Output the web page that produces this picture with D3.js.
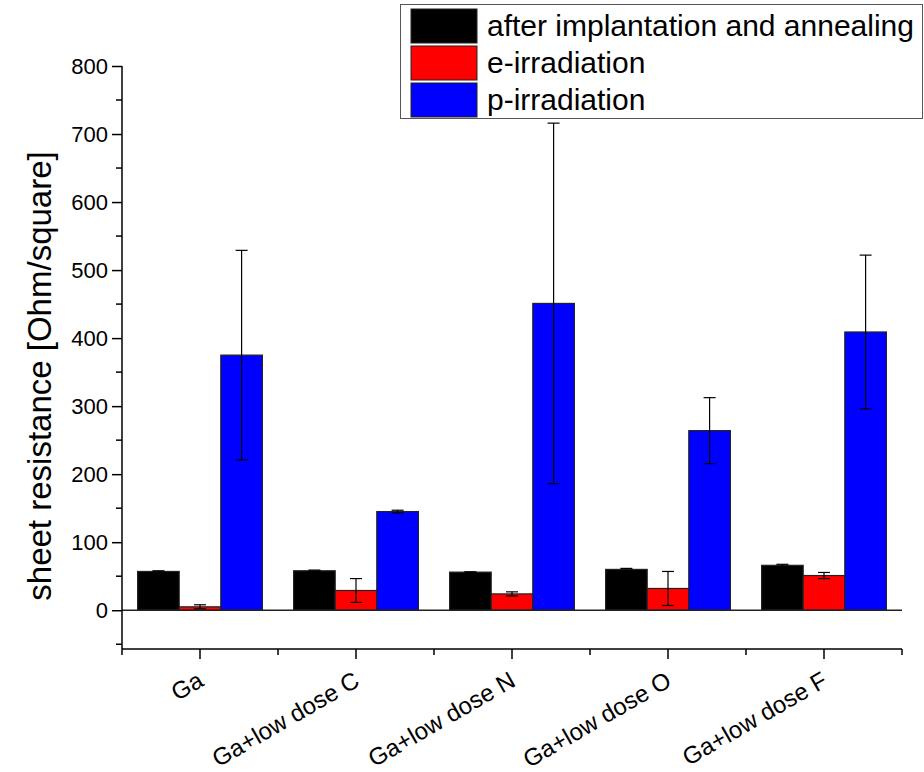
<!DOCTYPE html>
<html>
<head>
<meta charset="utf-8">
<script src="https://cdn.jsdelivr.net/npm/d3@7"></script>
<style>
  body { margin: 0; background: #fff; }
  svg { display: block; font-family: Arial, "Liberation Sans", sans-serif; }
</style>
</head>
<body>
<div class="canvas"></div>
<script>
const categories = ['Ga', 'Ga+low dose C', 'Ga+low dose N', 'Ga+low dose O', 'Ga+low dose F'];
const seriesNames = ['after implantation and annealing', 'e-irradiation', 'p-irradiation'];
const seriesColors = ['#000000', '#ff0000', '#0000ff'];

const afterValues = [57, 58, 56, 60, 66];
const afterErrors = [1, 1, 0.5, 1.5, 1.5];
const eValues = [5, 29, 24, 32, 51];
const eErrors = [3, 17.5, 3, 25, 4.5];
const pValues = [375, 145, 451, 264, 409];
const pErrors = [154, 2, 265, 48.5, 113];

const yTicks = [0, 100, 200, 300, 400, 500, 600, 700, 800];

const svgWidth = 924;
const svgHeight = 772;
const plot = { left: 122, right: 902, top: 66, bottom: 649 };

const svg = d3.select('.canvas')
  .append('svg')
  .attr('width', svgWidth)
  .attr('height', svgHeight);

const xScale = d3.scaleBand()
  .domain(categories)
  .range([plot.left, plot.right])
  .paddingInner(0.2)
  .paddingOuter(0.1);

const xInner = d3.scaleBand()
  .domain(d3.range(seriesNames.length))
  .range([0, xScale.bandwidth()]);

const yScale = d3.scaleLinear().domain([-57, 800]).range([plot.bottom, plot.top]);

const allSeries = [
  { values: afterValues, errors: afterErrors },
  { values: eValues, errors: eErrors },
  { values: pValues, errors: pErrors }
];

const rows = [];
allSeries.forEach((s, si) => {
  categories.forEach((c, ci) => {
    rows.push({ cat: c, si: si, value: s.values[ci], err: s.errors[ci] });
  });
});

const barX = (d) => xScale(d.cat) + xInner(d.si);

// bars
svg.append('g')
  .selectAll('rect')
  .data(rows)
  .enter()
  .append('rect')
  .attr('x', barX)
  .attr('y', (d) => yScale(d.value))
  .attr('width', xInner.bandwidth())
  .attr('height', (d) => yScale(0) - yScale(d.value))
  .attr('fill', (d) => seriesColors[d.si])
  .attr('stroke', '#222')
  .attr('stroke-width', 1.2);

// error bars
const capHalf = 6;
const errG = svg.append('g').attr('stroke', '#000').attr('stroke-width', 1.2);
rows.forEach((d) => {
  const cx = barX(d) + xInner.bandwidth() / 2;
  const y1 = yScale(d.value + d.err);
  const y2 = yScale(d.value - d.err);
  errG.append('line').attr('x1', cx).attr('x2', cx).attr('y1', y1).attr('y2', y2);
  errG.append('line').attr('x1', cx - capHalf).attr('x2', cx + capHalf).attr('y1', y1).attr('y2', y1);
  errG.append('line').attr('x1', cx - capHalf).attr('x2', cx + capHalf).attr('y1', y2).attr('y2', y2);
});

// zero line
svg.append('line')
  .attr('x1', plot.left)
  .attr('x2', plot.right)
  .attr('y1', yScale(0))
  .attr('y2', yScale(0))
  .attr('stroke', '#222')
  .attr('stroke-width', 1.5);

// y axis
const yAxis = d3.axisLeft(yScale).tickValues(yTicks).tickSize(10).tickPadding(4);
const yAxisGroup = svg.append('g')
  .attr('class', 'y-axis')
  .attr('transform', `translate(${plot.left},0)`)
  .call(yAxis);
yAxisGroup.select('.domain').remove();
yAxisGroup.selectAll('line').attr('stroke-width', 1.5);
yAxisGroup.selectAll('text').attr('font-size', '22px').attr('fill', '#000');

const yMinor = d3.range(-50, 800, 100);
svg.append('g')
  .selectAll('line')
  .data(yMinor)
  .enter()
  .append('line')
  .attr('x1', plot.left - 6)
  .attr('x2', plot.left)
  .attr('y1', (d) => yScale(d))
  .attr('y2', (d) => yScale(d))
  .attr('stroke', '#000')
  .attr('stroke-width', 1.5);

svg.append('line')
  .attr('x1', plot.left).attr('x2', plot.left)
  .attr('y1', plot.top).attr('y2', plot.bottom)
  .attr('stroke', '#000').attr('stroke-width', 1.5);

// x axis
const xAxis = d3.axisBottom(xScale).tickSize(10).tickPadding(4);
const xAxisGroup = svg.append('g')
  .attr('class', 'x-axis')
  .attr('transform', `translate(0,${plot.bottom})`)
  .call(xAxis);
xAxisGroup.select('.domain').remove();
xAxisGroup.selectAll('line').attr('stroke-width', 1.5);
xAxisGroup.selectAll('text')
  .attr('font-size', '24px')
  .attr('fill', '#000')
  .attr('text-anchor', 'end')
  .attr('dy', '0')
  .attr('transform', 'translate(-2,24) rotate(-30)');

const xMinor = categories.map((c) => xScale(c) - xScale.step() * xScale.paddingInner() / 2)
  .concat([plot.right]);
svg.append('g')
  .selectAll('line')
  .data(xMinor)
  .enter()
  .append('line')
  .attr('x1', (d) => d).attr('x2', (d) => d)
  .attr('y1', plot.bottom).attr('y2', plot.bottom + 6)
  .attr('stroke', '#000').attr('stroke-width', 1.5);

svg.append('line')
  .attr('x1', plot.left).attr('x2', plot.right)
  .attr('y1', plot.bottom).attr('y2', plot.bottom)
  .attr('stroke', '#000').attr('stroke-width', 1.5);

// y title
svg.append('text')
  .attr('transform', 'translate(51,376) rotate(-90)')
  .attr('text-anchor', 'middle')
  .attr('font-size', '33px')
  .text('sheet resistance [Ohm/square]');

// legend
const legend = svg.append('g').attr('transform', 'translate(400,4)');
legend.append('rect')
  .attr('x', 0.5).attr('y', 0.5)
  .attr('width', 522).attr('height', 114)
  .attr('fill', '#fff')
  .attr('stroke', '#555');
seriesNames.forEach((name, i) => {
  legend.append('rect')
    .attr('x', 11).attr('y', 5 + i * 37)
    .attr('width', 66).attr('height', 34)
    .attr('fill', seriesColors[i])
    .attr('stroke', '#222');
  legend.append('text')
    .attr('x', 87).attr('y', 32 + i * 37)
    .attr('font-size', '30px')
    .text(name);
});
</script>
</body>
</html>
